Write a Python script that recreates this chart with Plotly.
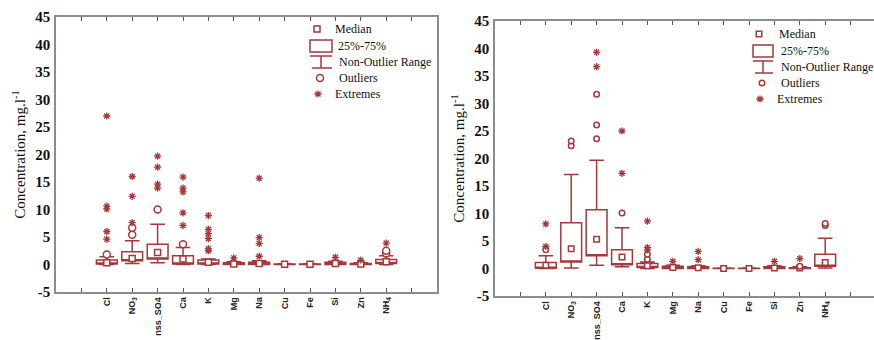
import plotly.graph_objects as go

# ---------------- data ----------------
cat_keys = ["Cl", "NO3", "nss_SO4", "Ca", "K", "Mg", "Na", "Cu", "Fe", "Si", "Zn", "NH4"]
cat_labels = ["Cl", "NO<sub>3</sub>", "nss_SO4", "Ca", "K", "Mg", "Na", "Cu", "Fe", "Si", "Zn", "NH<sub>4</sub>"]
y_tick_vals = [-5, 0, 5, 10, 15, 20, 25, 30, 35, 40, 45]
y_tick_text = ["-5", "0", "5", "10", "15", "20", "25", "30", "35", "40", "45"]

# Left panel
q1_a  = [0.1, 0.7, 1.0, 0.1, 0.1, 0.0, 0.0, 0.0, 0.0, 0.0, 0.0, 0.2]
med_a = [0.3, 1.1, 2.2, 1.0, 0.4, 0.1, 0.2, 0.05, 0.05, 0.2, 0.1, 0.5]
q3_a  = [0.8, 2.3, 3.7, 1.6, 0.8, 0.3, 0.4, 0.1, 0.1, 0.4, 0.2, 0.9]
lo_a  = [0.0, 0.2, 0.3, 0.0, 0.0, 0.0, 0.0, 0.0, 0.0, 0.0, 0.0, 0.0]
hi_a  = [1.4, 4.3, 7.3, 3.1, 1.0, 0.5, 0.7, 0.15, 0.15, 0.6, 0.3, 1.6]
out_a_cat = ["Cl", "NO3", "NO3", "nss_SO4", "Ca", "NH4", "NH4"]
out_a_val = [1.8, 5.4, 6.7, 10.0, 3.7, 2.0, 2.5]
ext_a_cat = ["Cl", "Cl", "Cl", "Cl", "Cl",
             "NO3", "NO3", "NO3",
             "nss_SO4", "nss_SO4", "nss_SO4", "nss_SO4",
             "Ca", "Ca", "Ca", "Ca", "Ca",
             "K", "K", "K", "K", "K", "K",
             "Mg", "Na", "Na", "Na", "Na", "Si", "Zn", "NH4"]
ext_a_val = [4.6, 6.0, 10.1, 10.6, 27.0,
             7.6, 12.4, 16.0,
             13.9, 14.6, 17.7, 19.7,
             7.1, 9.4, 13.2, 13.9, 15.9,
             2.5, 2.9, 4.7, 5.6, 6.4, 8.9,
             1.2, 1.5, 3.8, 4.9, 15.7, 1.3, 0.8, 3.9]

# Right panel
q1_b  = [0.05, 1.2, 2.3, 0.7, 0.2, 0.0, 0.0, 0.0, 0.0, 0.0, 0.0, 0.4]
med_b = [0.6, 3.6, 5.3, 2.1, 0.5, 0.2, 0.15, 0.02, 0.02, 0.1, 0.1, 1.1]
q3_b  = [1.1, 8.3, 10.7, 3.4, 0.9, 0.4, 0.3, 0.05, 0.05, 0.3, 0.15, 2.6]
lo_b  = [0.0, 0.1, 0.6, 0.3, 0.0, 0.0, 0.0, 0.0, 0.0, 0.0, 0.0, 0.1]
hi_b  = [2.3, 17.1, 19.7, 7.4, 1.2, 0.6, 0.5, 0.1, 0.1, 0.5, 0.3, 5.5]
out_b_cat = ["Cl", "NO3", "NO3", "nss_SO4", "nss_SO4", "nss_SO4", "Ca", "K", "K", "Zn", "NH4", "NH4"]
out_b_val = [3.4, 22.3, 23.2, 23.6, 26.1, 31.7, 10.1, 1.7, 2.6, 0.4, 7.8, 8.2]
ext_b_cat = ["Cl", "Cl", "nss_SO4", "nss_SO4", "Ca", "Ca", "K", "K", "K",
             "Mg", "Na", "Na", "Si", "Zn"]
ext_b_val = [4.0, 8.1, 36.7, 39.3, 17.3, 25.0, 3.4, 3.8, 8.6,
             1.3, 1.6, 3.1, 1.3, 1.8]

legend_labels = ["Median", "25%-75%", "Non-Outlier Range", "Outliers", "Extremes"]

# ---------------- layout constants ----------------
W, H = 874, 340
RED = "#A3393B"
AXC = "#8c8c8c"
PPX = 381 / 15.0      # pixels per category unit
PPY = 5.5             # pixels per concentration unit

panels = [
    dict(L=56, T=17, R=437, B=292, xa="x", ya="y",
         data=(q1_a, med_a, q3_a, lo_a, hi_a, out_a_cat, out_a_val, ext_a_cat, ext_a_val),
         osize=7, msize=6,
         leg=dict(med=(317, 29), box=(310, 40, 332, 52), wh=(310, 56, 332, 68, 312),
                  out=(320, 78), ext=(318, 94), tx=[333, 336, 337, 337, 333],
                  ty=[29, 46, 62, 78, 94])),
    dict(L=495, T=21, R=874, B=296, xa="x2", ya="y2",
         data=(q1_b, med_b, q3_b, lo_b, hi_b, out_b_cat, out_b_val, ext_b_cat, ext_b_val),
         osize=5.5, msize=5.5,
         leg=dict(med=(759, 34), box=(753, 45, 773, 57), wh=(753, 61, 773, 73, 755),
                  out=(762, 83), ext=(760, 99), tx=[777, 779, 779, 779, 775],
                  ty=[34, 51, 67, 83, 99])),
]

fig = go.Figure()
shapes = []
annotations = []
pos = list(range(len(cat_keys)))
idx = {k: i for i, k in enumerate(cat_keys)}

for p in panels:
    q1, med, q3, lo, hi, oc, ov, ec, ev = p["data"]
    # Box + whiskers (median drawn separately as a square marker, as in the original)
    fig.add_trace(go.Box(
        x=pos, q1=q1, median=q1, q3=q3, lowerfence=lo, upperfence=hi,
        width=0.82, whiskerwidth=0.7, boxpoints=False,
        line=dict(color=RED, width=1.5), fillcolor="white",
        xaxis=p["xa"], yaxis=p["ya"], showlegend=False, hoverinfo="skip"))
    fig.add_trace(go.Scatter(
        x=pos, y=med, mode="markers", xaxis=p["xa"], yaxis=p["ya"], showlegend=False,
        marker=dict(symbol="square", size=p["msize"], color="white",
                    line=dict(color=RED, width=1.5))))
    fig.add_trace(go.Scatter(
        x=[idx[c] for c in oc], y=ov, mode="markers", xaxis=p["xa"], yaxis=p["ya"],
        showlegend=False,
        marker=dict(symbol="circle", size=p["osize"], color="white",
                    line=dict(color=RED, width=1.5))))
    fig.add_trace(go.Scatter(
        x=[idx[c] for c in ec], y=ev, mode="markers", xaxis=p["xa"], yaxis=p["ya"],
        showlegend=False,
        marker=dict(symbol="asterisk-open", size=6, color=RED,
                    line=dict(color=RED, width=1.3))))

    # legend glyphs (pixel -> data conversion)
    L, B = p["L"], p["B"]
    def dx(px, L=L):
        return -2 + (px - L) / PPX
    def dy(py, B=B):
        return -5 + (B - py) / PPY
    lg = p["leg"]
    fig.add_trace(go.Scatter(
        x=[dx(lg["med"][0])], y=[dy(lg["med"][1])], mode="markers",
        xaxis=p["xa"], yaxis=p["ya"], showlegend=False, hoverinfo="skip",
        marker=dict(symbol="square", size=p["msize"], color="white",
                    line=dict(color=RED, width=1.5))))
    fig.add_trace(go.Scatter(
        x=[dx(lg["out"][0])], y=[dy(lg["out"][1])], mode="markers",
        xaxis=p["xa"], yaxis=p["ya"], showlegend=False, hoverinfo="skip",
        marker=dict(symbol="circle", size=p["osize"], color="white",
                    line=dict(color=RED, width=1.5))))
    fig.add_trace(go.Scatter(
        x=[dx(lg["ext"][0])], y=[dy(lg["ext"][1])], mode="markers",
        xaxis=p["xa"], yaxis=p["ya"], showlegend=False, hoverinfo="skip",
        marker=dict(symbol="asterisk-open", size=6, color=RED,
                    line=dict(color=RED, width=1.3))))
    bx0, by0, bx1, by1 = lg["box"]
    shapes.append(dict(type="rect", xref="paper", yref="paper",
                       x0=bx0 / W, x1=bx1 / W, y0=1 - by0 / H, y1=1 - by1 / H,
                       line=dict(color=RED, width=1.5), fillcolor="white"))
    wx0, wy0, wx1, wy1, wbx0 = lg["wh"]
    cx = (wx0 + wx1) / 2
    for (a, b, c, d) in [(wx0, wy0, wx1, wy0), (cx, wy0, cx, wy1), (wbx0, wy1, wx1, wy1)]:
        shapes.append(dict(type="line", xref="paper", yref="paper",
                           x0=a / W, x1=c / W, y0=1 - b / H, y1=1 - d / H,
                           line=dict(color=RED, width=1.5)))
    for t, tx, ty in zip(legend_labels, lg["tx"], lg["ty"]):
        annotations.append(dict(text=t, xref="paper", yref="paper", x=tx / W, y=1 - ty / H,
                                xanchor="left", yanchor="middle", showarrow=False,
                                font=dict(family="Liberation Serif", size=12, color="#111")))

def xaxis_cfg(p):
    right_units = (p["R"] - p["L"]) / PPX
    return dict(domain=[p["L"] / W, min(p["R"] / W, 1.0)], range=[-2, -2 + right_units],
                tickvals=list(range(-1, 13)), ticktext=[""] + cat_labels + [""],
                tickangle=-90, ticks="inside", ticklen=4, tickcolor="#555", tickwidth=1,
                showline=True, linecolor=AXC, linewidth=1.5, mirror="ticks",
                showgrid=False, zeroline=False, anchor=p["ya"], automargin=False,
                tickfont=dict(family="Liberation Sans", size=9, color="#222", weight="bold"))

def yaxis_cfg(p, mirror):
    return dict(domain=[1 - p["B"] / H, 1 - p["T"] / H], range=[-5, 45],
                tickvals=y_tick_vals, ticktext=y_tick_text, ticks="",
                showline=True, linecolor=AXC, linewidth=1.5, mirror=mirror,
                showgrid=False, zeroline=False, anchor=p["xa"], ticklabelstandoff=1,
                automargin=False,
                tickfont=dict(family="Liberation Serif", size=15, color="#111", weight="bold"),
                title=dict(text="Concentration, mg.l<sup>-1</sup>", standoff=6,
                           font=dict(family="Liberation Serif", size=15, color="#111")))

fig.update_layout(
    width=W, height=H, margin=dict(l=0, r=0, t=0, b=0, autoexpand=False),
    paper_bgcolor="white", plot_bgcolor="white", hovermode=False,
    xaxis=xaxis_cfg(panels[0]), yaxis=yaxis_cfg(panels[0], True),
    xaxis2=xaxis_cfg(panels[1]), yaxis2=yaxis_cfg(panels[1], False),
    shapes=shapes, annotations=annotations, showlegend=False,
)

fig.write_html("out.html")
